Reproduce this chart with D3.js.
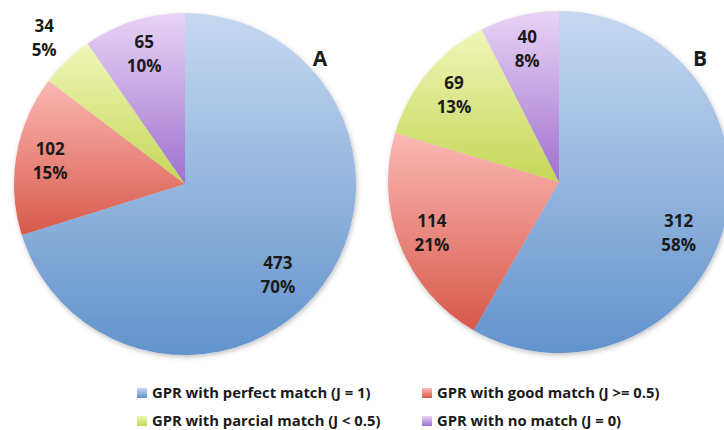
<!DOCTYPE html>
<html>
<head>
<meta charset="utf-8">
<script src="https://cdn.jsdelivr.net/npm/d3@7"></script>
<style>
  body { margin: 0; background: #fff; }
  text { font-family: "Open Sans", Lato, sans-serif; font-weight: bold; fill: #1a1a1a; }
</style>
</head>
<body>
<div id="chart"></div>
<script>
// categories (clockwise from 12 o'clock)
const categories = [
	'GPR with perfect match (J = 1)',
	'GPR with good match (J >= 0.5)',
	'GPR with parcial match (J < 0.5)',
	'GPR with no match (J = 0)'
];
const valuesA = [473, 102, 34, 65];
const valuesB = [312, 114, 69, 40];
const percentA = ['70%', '15%', '5%', '10%'];
const percentB = ['58%', '21%', '13%', '8%'];
const panelLabels = ['A', 'B'];

// gradient stops per category (top -> bottom)
const colorsTop = ['#c6d8f0', '#fcb8b4', '#f0f6b8', '#e8d4f5'];
const colorsBottom = ['#6293cc', '#d6594a', '#c5d657', '#a070cf'];

const width = 724, height = 430;
const radius = 171;
const pies = [
	{ cx: 185, cy: 184, values: valuesA, pct: percentA, tag: panelLabels[0], tx: 320, ty: 66 },
	{ cx: 559, cy: 182, values: valuesB, pct: percentB, tag: panelLabels[1], tx: 700, ty: 66 }
];

const svg = d3
	.select('#chart')
	.append('svg')
	.attr('width', width)
	.attr('height', height);

const defs = svg.append('defs');
categories.forEach((c, i) => {
	const g = defs
		.append('linearGradient')
		.attr('id', 'grad' + i)
		.attr('x1', '0%')
		.attr('x2', '0%')
		.attr('y1', '0%')
		.attr('y2', '100%');
	g.append('stop').attr('offset', '0%').attr('stop-color', colorsTop[i]);
	g.append('stop').attr('offset', '100%').attr('stop-color', colorsBottom[i]);
});
const shadow = defs
	.append('filter')
	.attr('id', 'shadow')
	.attr('x', '-10%')
	.attr('y', '-10%')
	.attr('width', '120%')
	.attr('height', '120%');
shadow
	.append('feDropShadow')
	.attr('dx', 1)
	.attr('dy', 2)
	.attr('stdDeviation', 2.5)
	.attr('flood-color', '#000')
	.attr('flood-opacity', 0.25);

const pie = d3
	.pie()
	.sort(null)
	.value(d => d);
const arc = d3.arc().innerRadius(0).outerRadius(radius);
const labelArc = d3.arc().innerRadius(radius * 0.8).outerRadius(radius * 0.8);
const bigLabelArc = d3.arc().innerRadius(radius * 0.76).outerRadius(radius * 0.76);
const outerLabelArc = d3.arc().innerRadius(radius * 1.19).outerRadius(radius * 1.19);
// big slices: label nudged clockwise, like the original layout
const nudge = 0.14;

pies.forEach(p => {
	const g = svg.append('g').attr('transform', 'translate(' + p.cx + ',' + p.cy + ')');
	const total = d3.sum(p.values);
	const arcs = pie(p.values);

	g.append('g')
		.attr('filter', 'url(#shadow)')
		.selectAll('path')
		.data(arcs)
		.enter()
		.append('path')
		.attr('d', arc)
		.attr('fill', (d, i) => 'url(#grad' + i + ')');

	const labels = g
		.selectAll('text.lbl')
		.data(arcs)
		.enter()
		.append('text')
		.attr('class', 'lbl')
		.attr('text-anchor', 'middle')
		.attr('font-size', 17)
		.attr('transform', d => {
			const share = d.value / total;
			let c;
			if (share < 0.07) {
				c = outerLabelArc.centroid(d);
			} else if (share > 0.5) {
				c = bigLabelArc.centroid({ startAngle: d.startAngle + nudge, endAngle: d.endAngle + nudge });
			} else {
				c = labelArc.centroid(d);
			}
			return 'translate(' + c[0] + ',' + c[1] + ')';
		});
	labels.append('tspan').attr('x', 0).attr('dy', '-0.33em').text(d => d.value);
	labels
		.append('tspan')
		.attr('x', 0)
		.attr('dy', '1.42em')
		.text((d, i) => p.pct[i]);

	svg.append('text')
		.attr('x', p.tx)
		.attr('y', p.ty)
		.attr('text-anchor', 'middle')
		.attr('font-size', 21)
		.text(p.tag);
});

// Legend
const legendX = [137, 422];
const legendY = [393, 421];
const legend = svg
	.selectAll('g.legend')
	.data(categories)
	.enter()
	.append('g')
	.attr('class', 'legend')
	.attr('transform', (d, i) => 'translate(' + legendX[i % 2] + ',' + legendY[Math.floor(i / 2)] + ')');
legend
	.append('rect')
	.attr('x', 0)
	.attr('y', -5)
	.attr('width', 10)
	.attr('height', 10)
	.attr('fill', (d, i) => 'url(#grad' + i + ')');
legend
	.append('text')
	.attr('x', 15)
	.attr('dy', '0.35em')
	.attr('font-size', 14.8)
	.text(d => d);
</script>
</body>
</html>
